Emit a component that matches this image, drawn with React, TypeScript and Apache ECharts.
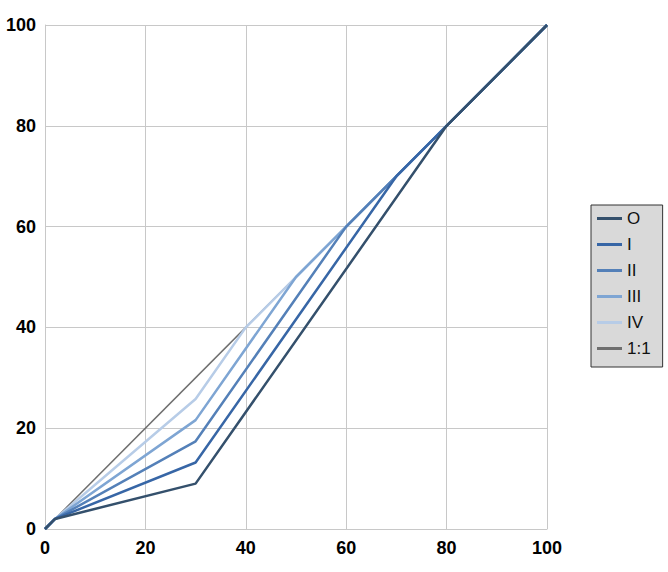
import React, { useEffect, useRef } from "react";
import * as echarts from "echarts";

const seriesNames = ["O", "I", "II", "III", "IV", "1:1"];
const seriesColors = ["#34506c", "#3766a6", "#5480b8", "#7ea5d3", "#b7cce7", "#6f6f6f"];
const seriesWidths = [2.5, 2.5, 2.5, 2.5, 2.5, 1.5];

const xO = [0, 2, 30, 80, 100];
const yO = [0, 2, 9, 80, 100];
const xI = [0, 2, 30, 70, 100];
const yI = [0, 2, 13.2, 70, 100];
const xII = [0, 2, 30, 60, 100];
const yII = [0, 2, 17.4, 60, 100];
const xIII = [0, 2, 30, 50, 100];
const yIII = [0, 2, 21.6, 50, 100];
const xIV = [0, 2, 30, 40, 100];
const yIV = [0, 2, 25.8, 40, 100];
const x11 = [0, 100];
const y11 = [0, 100];

const allX = [xO, xI, xII, xIII, xIV, x11];
const allY = [yO, yI, yII, yIII, yIV, y11];

const FONT = "'Liberation Sans', Arial, sans-serif";

export default function App() {
  const ref = useRef<HTMLDivElement>(null);
  useEffect(() => {
    if (!ref.current) return;
    const chart = echarts.init(ref.current, undefined, { renderer: "svg" });
    const series = seriesNames
      .map((name, i) => ({
        name,
        type: "line",
        symbol: "none",
        data: allX[i].map((x, j) => [x, allY[i][j]]),
        lineStyle: { color: seriesColors[i], width: seriesWidths[i] },
        itemStyle: { color: seriesColors[i] },
        z: 10 - i,
      }))
      .reverse();
    chart.setOption({
      animation: false,
      textStyle: { fontFamily: FONT },
      grid: { left: 45, right: 121, top: 25, bottom: 43, containLabel: false },
      xAxis: {
        type: "value",
        min: 0,
        max: 100,
        interval: 20,
        axisLine: { show: true, lineStyle: { color: "#c8c8c8", width: 1 } },
        axisTick: { show: false },
        splitLine: { show: true, lineStyle: { color: "#c8c8c8", width: 1 } },
        axisLabel: { color: "#000", fontSize: 18, fontWeight: "bold", margin: 10, fontFamily: FONT },
      },
      yAxis: {
        type: "value",
        min: 0,
        max: 100,
        interval: 20,
        axisLine: { show: true, lineStyle: { color: "#c8c8c8", width: 1 } },
        axisTick: { show: false },
        splitLine: { show: true, lineStyle: { color: "#c8c8c8", width: 1 } },
        axisLabel: { color: "#000", fontSize: 18, fontWeight: "bold", margin: 9, fontFamily: FONT },
      },
      legend: {
        data: seriesNames.map((n) => ({ name: n, icon: "rect" })),
        orient: "vertical",
        left: 591,
        top: 205,
        width: 71,
        padding: [5, 12, 10, 6],
        itemGap: 9,
        itemWidth: 25,
        itemHeight: 3,
        backgroundColor: "#d9d9d9",
        borderColor: "#333",
        borderWidth: 1,
        textStyle: { color: "#111", fontSize: 17, fontFamily: FONT, lineHeight: 17 },
      },
      series,
    });
    return () => chart.dispose();
  }, []);
  return (
    <div
      ref={ref}
      style={{ position: "fixed", left: 0, top: 0, width: 668, height: 572, background: "#fff" }}
    />
  );
}
